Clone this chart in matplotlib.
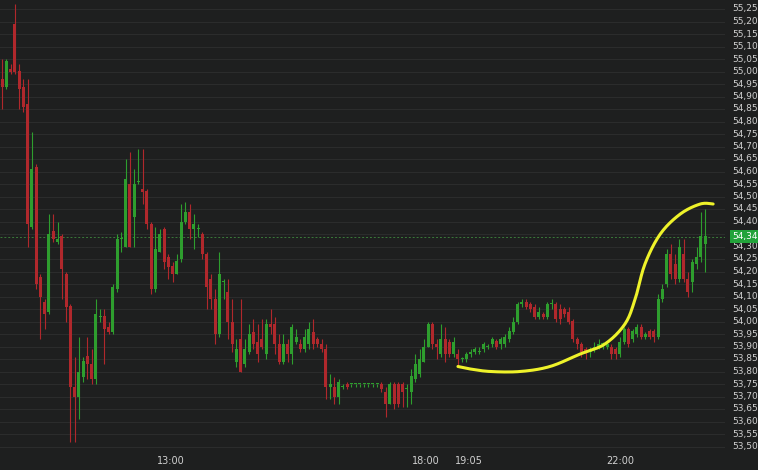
import matplotlib
matplotlib.use("Agg")
import matplotlib.pyplot as plt
import numpy as np

opens = [54.97,54.94,55.01,55.19,55.00,54.94,54.87,54.38,54.62,54.18,54.08,54.04,54.36,54.32,54.34,54.19,54.06,53.74,53.70,53.78,
53.86,53.83,53.77,54.02,54.02,53.98,53.96,54.13,54.33,54.30,54.55,54.42,54.56,54.53,54.52,54.39,54.13,54.28,54.37,54.26,
54.22,54.19,54.25,54.40,54.44,54.37,54.37,54.35,54.27,54.17,54.09,53.95,54.16,54.12,54.00,53.84,53.93,53.83,53.88,53.96,
53.92,53.93,53.87,53.99,53.99,53.91,53.84,53.91,53.87,53.92,53.91,53.89,53.91,53.96,53.93,53.91,53.89,53.74,53.74,53.70,
53.74,53.75,53.75,53.75,53.75,53.75,53.75,53.75,53.75,53.75,53.72,53.67,53.75,53.75,53.75,53.73,53.72,53.77,53.79,53.84,
53.90,53.99,53.91,53.87,53.93,53.92,53.87,53.87,53.85,53.85,53.87,53.88,53.88,53.89,53.90,53.91,53.92,53.91,53.91,53.93,
53.96,54.00,54.07,54.08,54.07,54.06,54.02,54.03,54.02,54.07,54.07,54.05,54.05,54.04,54.00,53.93,53.91,53.89,53.88,53.89,
53.90,53.91,53.90,53.90,53.89,53.87,53.92,53.97,53.93,53.95,53.98,53.94,53.96,53.96,53.94,54.09,54.15,54.27,54.23,54.17,
54.27,54.17,54.16,54.23,54.26,54.31]
closes = [54.94,55.04,55.00,55.00,54.93,54.86,54.39,54.61,54.15,54.10,54.03,54.35,54.33,54.33,54.21,54.06,53.74,53.70,53.80,53.84,
53.83,53.77,54.03,54.02,53.97,53.96,54.14,54.33,54.33,54.57,54.30,54.55,54.56,54.52,54.39,54.13,54.29,54.35,54.24,54.22,
54.19,54.24,54.40,54.44,54.37,54.39,54.37,54.27,54.14,54.09,53.95,54.19,54.16,54.00,53.91,53.89,53.80,53.89,53.95,53.91,
53.87,53.90,53.99,53.98,53.91,53.84,53.91,53.87,53.98,53.94,53.89,53.94,53.97,53.91,53.91,53.89,53.74,53.75,53.70,53.76,
53.74,53.74,53.75,53.75,53.75,53.75,53.75,53.75,53.75,53.73,53.67,53.75,53.67,53.67,53.72,53.73,53.78,53.83,53.85,53.90,
53.99,53.91,53.90,53.93,53.87,53.87,53.92,53.85,53.85,53.87,53.88,53.89,53.88,53.91,53.90,53.93,53.90,53.93,53.94,53.96,
54.00,54.07,54.08,54.06,54.05,54.02,54.04,54.02,54.07,54.07,54.01,54.01,54.03,54.00,53.93,53.91,53.88,53.87,53.89,53.90,
53.91,53.91,53.91,53.87,53.87,53.92,53.97,53.91,53.96,53.98,53.94,53.95,53.94,53.94,54.09,54.13,54.27,54.19,54.17,54.30,
54.17,54.12,54.24,54.26,54.34,54.34]
highs = [55.05,55.05,55.03,55.27,55.03,54.97,54.97,54.76,54.63,54.19,54.09,54.43,54.43,54.40,54.35,54.20,54.07,53.86,53.94,53.86,
53.94,53.89,54.09,54.05,54.05,54.00,54.15,54.35,54.36,54.65,54.68,54.61,54.69,54.69,54.53,54.40,54.38,54.37,54.38,54.27,
54.24,54.27,54.47,54.48,54.47,54.43,54.39,54.36,54.28,54.19,54.13,54.28,54.17,54.17,54.09,53.93,54.09,53.93,53.99,54.01,
53.99,54.01,54.01,54.05,54.02,53.95,53.95,53.93,53.99,53.97,53.93,53.97,54.00,54.01,53.94,53.93,53.91,53.79,53.78,53.77,
53.75,53.76,53.75,53.75,53.75,53.75,53.75,53.75,53.75,53.76,53.74,53.76,53.76,53.76,53.76,53.75,53.81,53.87,53.89,53.93,
54.00,54.00,53.93,53.99,53.98,53.93,53.94,53.89,53.86,53.88,53.89,53.90,53.90,53.92,53.91,53.94,53.93,53.94,53.95,53.98,
54.02,54.08,54.09,54.09,54.08,54.07,54.06,54.04,54.08,54.09,54.08,54.07,54.06,54.06,54.01,53.94,53.92,53.90,53.90,53.92,
53.93,53.92,53.92,53.91,53.90,53.94,53.98,53.98,53.97,53.99,53.99,53.96,53.97,53.97,54.11,54.15,54.29,54.31,54.27,54.33,
54.33,54.20,54.25,54.30,54.44,54.45]
lows = [54.85,54.93,54.99,54.99,54.85,54.84,54.30,54.37,54.13,53.93,53.97,54.03,54.32,54.31,54.09,54.00,53.52,53.52,53.61,53.76,
53.77,53.75,53.75,54.00,53.83,53.95,53.95,54.12,54.28,54.30,54.30,54.30,54.55,54.47,54.37,54.11,54.12,54.28,54.21,54.17,
54.16,54.19,54.24,54.39,54.33,54.29,54.34,54.25,54.05,54.05,53.91,53.94,54.09,53.93,53.88,53.82,53.80,53.82,53.87,53.89,
53.84,53.89,53.85,53.95,53.87,53.83,53.83,53.84,53.83,53.91,53.88,53.88,53.89,53.89,53.90,53.88,53.69,53.69,53.67,53.67,
53.73,53.73,53.74,53.74,53.74,53.74,53.74,53.74,53.74,53.72,53.62,53.67,53.65,53.66,53.66,53.66,53.67,53.76,53.78,53.84,
53.90,53.89,53.85,53.86,53.84,53.86,53.86,53.82,53.84,53.84,53.86,53.87,53.87,53.88,53.89,53.90,53.89,53.89,53.90,53.92,
53.95,53.99,54.06,54.05,54.04,54.01,54.01,54.01,54.01,54.05,54.00,53.99,54.02,53.99,53.92,53.89,53.86,53.85,53.86,53.88,
53.89,53.89,53.89,53.85,53.85,53.86,53.91,53.90,53.92,53.94,53.93,53.93,53.93,53.92,53.93,54.08,54.14,54.17,54.15,54.16,
54.16,54.10,54.12,54.21,54.24,54.20]

time_labels = ["13:00", "18:00", "19:05", "22:00"]
time_label_pos = [39.5, 99.5, 109.5, 145.0]
last_price = 54.34

# hand-drawn yellow annotation (index, price)
curve_idx = [107.0,109.9,114.6,121.6,128.6,135.7,141.5,146.2,148.6,150.9,154.5,159.2,163.9,166.9]
curve_px = [53.82,53.81,53.80,53.80,53.82,53.87,53.91,53.99,54.09,54.23,54.35,54.43,54.47,54.47]

BG = "#1e1f1f"
UP = "#2e9e2e"
DN = "#b0282c"

fig = plt.figure(figsize=(7.58, 4.70), dpi=100, facecolor=BG)
ax = fig.add_axes([0, 18/470, 725/758, 452/470])
ax.set_facecolor(BG)

ymin, ymax = 55.286 - 452*0.004, 55.286
ax.set_ylim(ymin, ymax)
ax.set_xlim(-0.5, -0.5 + 725/4.26)

ticks = np.round(np.arange(53.50, 55.251, 0.05), 2)
for t in ticks:
    ax.axhline(t, color="#2b2c2c", lw=0.8, zorder=0)

for i, (o, c, h, l) in enumerate(zip(opens, closes, highs, lows)):
    col = UP if c >= o else DN
    ax.vlines(i, l, h, color=col, lw=0.8, zorder=2)
    bot = min(o, c)
    hgt = max(abs(c - o), 0.004)
    ax.bar(i, hgt, bottom=bot, width=0.7, color=col, edgecolor=col, lw=0, zorder=3)

ax.axhline(last_price, color="#3a7a3a", lw=0.7, ls=(0, (2, 2)), zorder=1)

# Catmull-Rom smoothing of the hand-drawn stroke (display only)
P = np.column_stack([curve_idx, curve_px])
P = np.vstack([P[0], P, P[-1]])
sm = []
for k in range(1, len(P) - 2):
    p0, p1, p2, p3 = P[k-1], P[k], P[k+1], P[k+2]
    for t in np.linspace(0, 1, 12, endpoint=False):
        t2, t3 = t*t, t*t*t
        sm.append(0.5*((2*p1) + (-p0+p2)*t + (2*p0-5*p1+4*p2-p3)*t2 + (-p0+3*p1-3*p2+p3)*t3))
sm.append(P[-2])
sm = np.array(sm)
ax.plot(sm[:, 0], sm[:, 1], color="#eef22a", lw=2.2, solid_capstyle="round", zorder=5)

for s in ax.spines.values():
    s.set_visible(False)
ax.set_xticks([])
ax.set_yticks([])

for t in ticks:
    if abs(t - last_price) < 0.03:
        continue
    ax.text(1.0 + 7/725, t, f"{t:.2f}".replace(".", ","), transform=ax.get_yaxis_transform(),
            color="#d0d0d0", fontsize=6.5, va="center", ha="left", clip_on=False)
ax.text(1.0 + 7/725, last_price, f"{last_price:.2f}".replace(".", ","), transform=ax.get_yaxis_transform(),
        color="white", fontsize=6.5, va="center", ha="left", clip_on=False,
        bbox=dict(boxstyle="square,pad=0.25", fc="#22a33a", ec="none"))

for lab, pos in zip(time_labels, time_label_pos):
    ax.text(pos, ymin - 0.018, lab, color="#d0d0d0", fontsize=7, ha="center", va="top", clip_on=False)

fig.savefig("out.png", dpi=100, facecolor=BG)
